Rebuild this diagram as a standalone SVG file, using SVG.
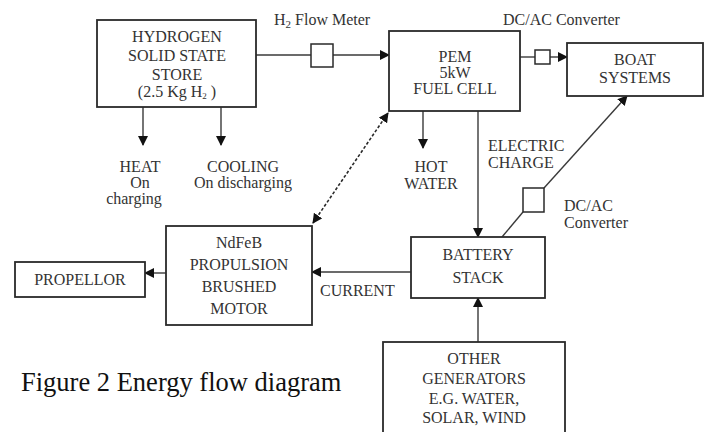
<svg xmlns="http://www.w3.org/2000/svg" width="708" height="432" viewBox="0 0 708 432">
<style>
.box{fill:#fff;stroke:#2a2a2a;stroke-width:1.8}
.small{fill:#fff;stroke:#2a2a2a;stroke-width:1.5}
.ln{fill:none;stroke:#3a3a3a;stroke-width:1.4}
.dash{fill:none;stroke:#2a2a2a;stroke-width:1.6;stroke-dasharray:3 2}
text{font-family:"Liberation Serif","Times New Roman",serif;font-size:16px;fill:#333}
.c{text-anchor:middle}
.cap{font-size:26.5px;fill:#111}
</style>
<defs>
<marker id="ah" markerWidth="10" markerHeight="10" refX="9" refY="5" orient="auto" markerUnits="userSpaceOnUse">
<path d="M0,0 L10,5 L0,10 Z" fill="#111"/>
</marker>
<marker id="ahs" markerWidth="10" markerHeight="10" refX="1" refY="5" orient="auto" markerUnits="userSpaceOnUse">
<path d="M10,0 L0,5 L10,10 Z" fill="#111"/>
</marker>
</defs>
<rect width="708" height="432" fill="#fff"/>

<g id="connectors">
<line class="ln" x1="256" y1="55" x2="311" y2="55"/>
<line class="ln" x1="333" y1="55" x2="389" y2="55" marker-end="url(#ah)"/>
<line class="ln" x1="520" y1="57" x2="535" y2="57"/>
<line class="ln" x1="550" y1="57" x2="567" y2="57" marker-end="url(#ah)"/>
<line class="ln" x1="143" y1="107" x2="143" y2="145" marker-end="url(#ah)"/>
<line class="ln" x1="221" y1="107" x2="221" y2="145" marker-end="url(#ah)"/>
<line class="ln" x1="423" y1="111" x2="423" y2="148" marker-end="url(#ah)"/>
<line class="ln" x1="478" y1="111" x2="478" y2="237" marker-end="url(#ah)"/>
<line class="ln" x1="502" y1="237" x2="523" y2="212"/>
<line class="ln" x1="544" y1="188" x2="627" y2="96" marker-end="url(#ah)"/>
<line class="ln" x1="411" y1="272" x2="312" y2="272" marker-end="url(#ah)"/>
<line class="ln" x1="166" y1="273" x2="145" y2="273" marker-end="url(#ah)"/>
<line class="ln" x1="478" y1="342" x2="478" y2="298" marker-end="url(#ah)"/>
<line class="dash" x1="313" y1="223" x2="388" y2="113" marker-start="url(#ahs)" marker-end="url(#ah)"/>
<rect class="small" x="311" y="44" width="22" height="23"/>
<rect class="small" x="535" y="50" width="15" height="14"/>
<rect class="small" x="523" y="188" width="21" height="24"/>
<text x="274" y="25">H<tspan font-size="11" dy="3">2</tspan><tspan dy="-3"> Flow Meter</tspan></text>
<text x="503" y="25">DC/AC Converter</text>
<text class="c" x="140" y="172">HEAT</text>
<text class="c" x="140" y="188">On</text>
<text class="c" x="134" y="204">charging</text>
<text class="c" x="243" y="172">COOLING</text>
<text class="c" x="243" y="188">On discharging</text>
<text class="c" x="431" y="172">HOT</text>
<text class="c" x="431" y="189">WATER</text>
<text x="488" y="151">ELECTRIC</text>
<text x="488" y="168">CHARGE</text>
<text x="564" y="211">DC/AC</text>
<text x="564" y="228">Converter</text>
<text x="320" y="296">CURRENT</text>
</g>

<g id="hydrogen">
<rect class="box" x="97" y="20" width="159" height="87"/>
<text class="c" x="177" y="42">HYDROGEN</text>
<text class="c" x="177" y="61">SOLID STATE</text>
<text class="c" x="177" y="80">STORE</text>
<text class="c" x="177" y="97" font-size="12">(2.5 Kg H<tspan font-size="9" dy="2">2</tspan><tspan dy="-2"> )</tspan></text>
</g>

<g id="fuelcell">
<rect class="box" x="389" y="31" width="131" height="80"/>
<text class="c" x="455" y="62">PEM</text>
<text class="c" x="455" y="78">5kW</text>
<text class="c" x="455" y="94">FUEL CELL</text>
</g>

<g id="boat">
<rect class="box" x="567" y="43" width="136" height="53"/>
<text class="c" x="635" y="65">BOAT</text>
<text class="c" x="635" y="83">SYSTEMS</text>
</g>

<g id="battery">
<rect class="box" x="411" y="237" width="134" height="61"/>
<text class="c" x="478" y="260">BATTERY</text>
<text class="c" x="478" y="283">STACK</text>
</g>

<g id="motor">
<rect class="box" x="166" y="226" width="146" height="99"/>
<text class="c" x="239" y="248">NdFeB</text>
<text class="c" x="239" y="270">PROPULSION</text>
<text class="c" x="239" y="292">BRUSHED</text>
<text class="c" x="239" y="314">MOTOR</text>
</g>

<g id="propellor">
<rect class="box" x="15" y="262" width="130" height="35"/>
<text class="c" x="80" y="285">PROPELLOR</text>
</g>

<g id="generators">
<rect class="box" x="383" y="342" width="182" height="95"/>
<text class="c" x="474" y="364">OTHER</text>
<text class="c" x="474" y="384">GENERATORS</text>
<text class="c" x="474" y="404">E.G. WATER,</text>
<text class="c" x="474" y="423">SOLAR, WIND</text>
</g>

<text class="cap" x="21" y="391">Figure 2 Energy flow diagram</text>
</svg>
